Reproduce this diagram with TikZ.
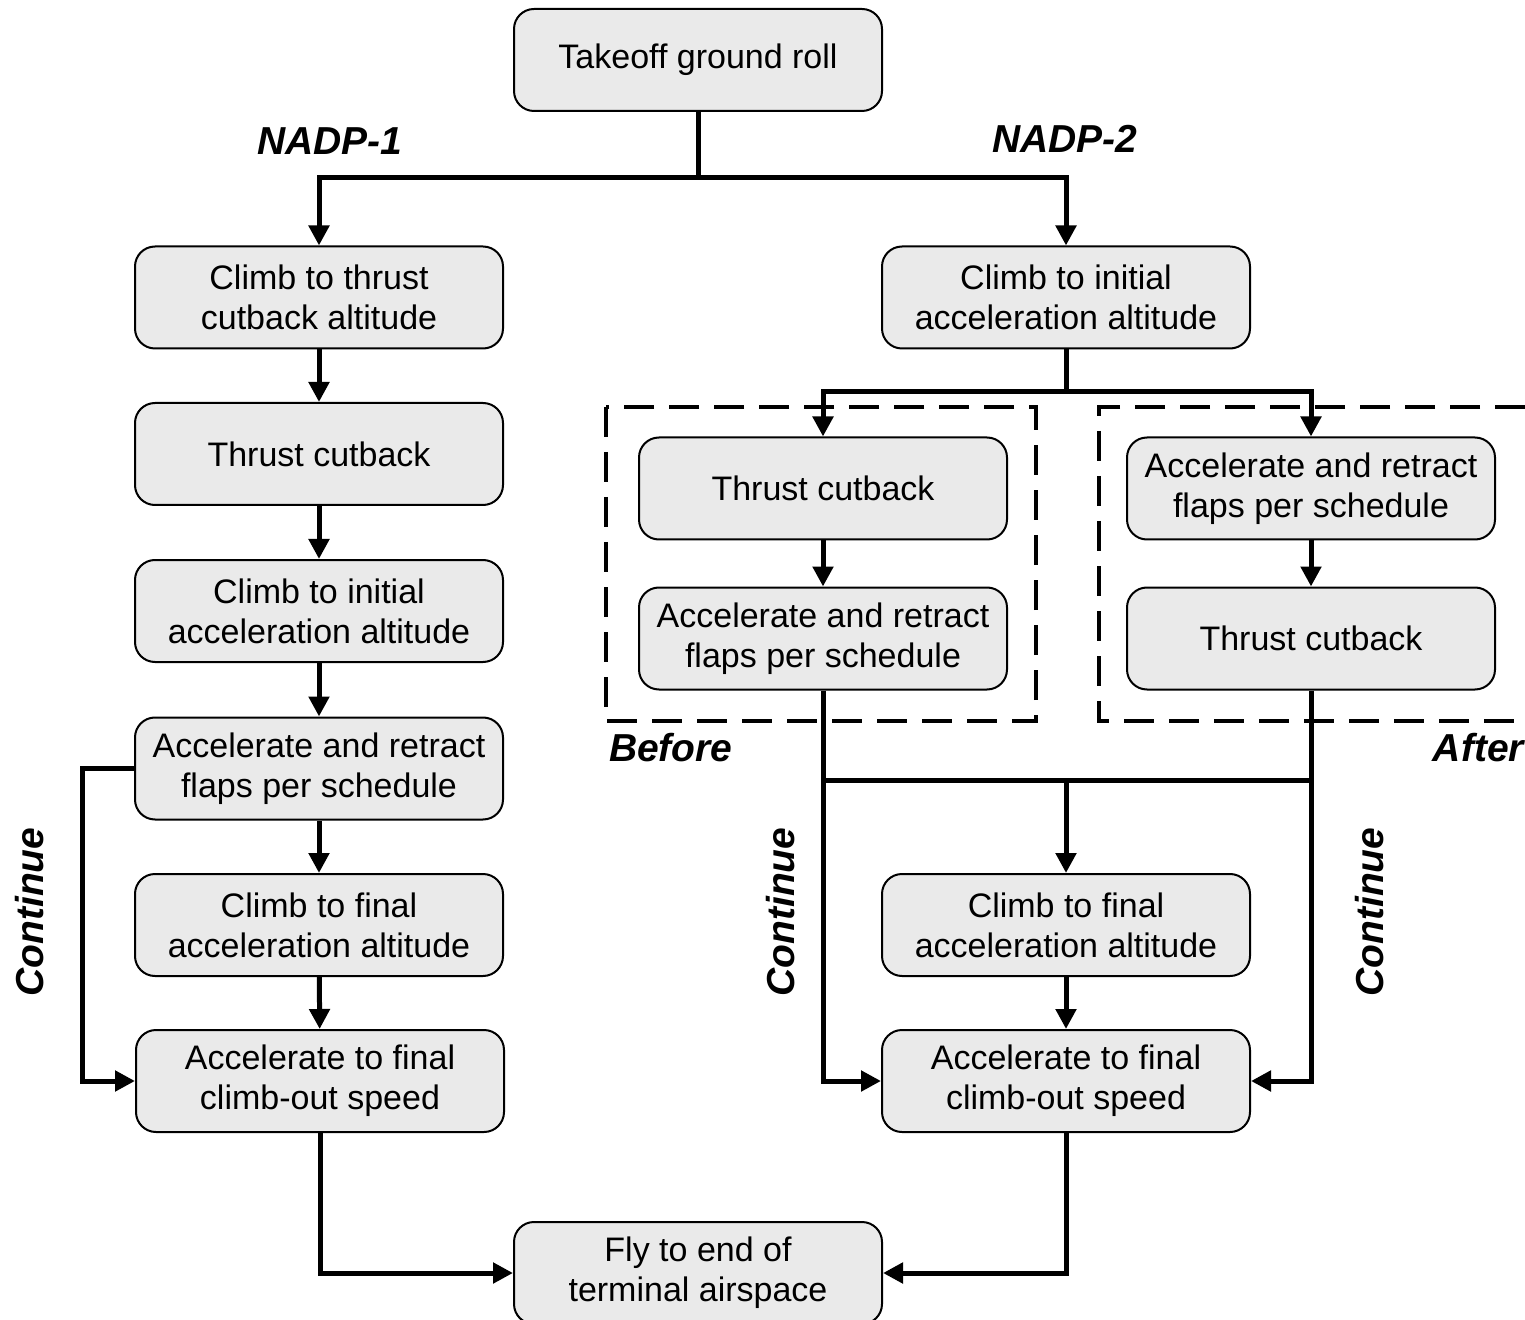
\documentclass[tikz,border=0pt]{standalone}
\usepackage{fontspec}
\setmainfont{Liberation Sans}
\usetikzlibrary{arrows.meta}
\definecolor{boxgray}{HTML}{EAEAEA}
\begin{document}
\begin{tikzpicture}[x=0.5pt,y=-0.5pt,
  stage/.style={draw, line width=1pt, rounded corners=10pt, fill=boxgray,
    minimum width=184pt, minimum height=51pt, align=center, inner sep=0pt,
    font=\fontsize{17}{20}\selectfont},
  flow/.style={line width=2.5pt, -{Triangle[length=10pt,width=10pt]}},
  link/.style={line width=2.5pt},
  tag/.style={font=\fontsize{19.5}{22}\selectfont\bfseries\itshape},
  group/.style={draw, line width=1.75pt, dash pattern=on 15pt off 7.5pt}]
\useasboundingbox (0,0) rectangle (1525,1320);

% procedure groups for NADP-2
\draw[group] (606,407) rectangle (1036,721);
\draw[group] (1525,407) -- (1099,407) -- (1099,721) -- (1525,721);

% stages
\node[stage] (top) at (698,60) {Takeoff ground roll};
\node[stage] (l1) at (319,297.5) {Climb to thrust\\cutback altitude};
\node[stage] (l2) at (319,454) {Thrust cutback};
\node[stage] (l3) at (319,611) {Climb to initial\\acceleration altitude};
\node[stage] (l4) at (319,768.5) {Accelerate and retract\\flaps per schedule};
\node[stage] (l5) at (319,925) {Climb to final\\acceleration altitude};
\node[stage] (l6) at (320,1081) {Accelerate to final\\climb-out speed};
\node[stage] (r1) at (1066,297.5) {Climb to initial\\acceleration altitude};
\node[stage] (b1) at (823,488.5) {Thrust cutback};
\node[stage] (b2) at (823,638.5) {Accelerate and retract\\flaps per schedule};
\node[stage] (a1) at (1311,488.5) {Accelerate and retract\\flaps per schedule};
\node[stage] (a2) at (1311,638.5) {Thrust cutback};
\node[stage] (r2) at (1066,925) {Climb to final\\acceleration altitude};
\node[stage] (r3) at (1066,1081) {Accelerate to final\\climb-out speed};
\node[stage] (end) at (698,1273) {Fly to end of\\terminal airspace};

% labels
\node[tag] (n1) at (330,141) {NADP-1};
\node[tag] (n2) at (1065,139) {NADP-2};
\node[tag, anchor=west] (bef) at (602,748) {Before};
\node[tag, anchor=east] (aft) at (1531,748) {After};
\node[tag, rotate=90] (c1) at (30,912) {Continue};
\node[tag, rotate=90] (c2) at (781,912) {Continue};
\node[tag, rotate=90] (c3) at (1370,912) {Continue};

% junction points
\coordinate (ts) at (698,178);
\coordinate (rs) at (1066,392);
\coordinate (mj) at (1066,780);

% top split
\draw[link] (top.south) -- (ts);
\draw[flow] (ts) -| (l1.north);
\draw[flow] (ts) -| (r1.north);

% NADP-1 chain
\draw[flow] (l1) -- (l2);
\draw[flow] (l2) -- (l3);
\draw[flow] (l3) -- (l4);
\draw[flow] (l4) -- (l5);
\draw[flow] (l5) -- (l6);
\draw[flow] (l4.west) -- ++(-52,0) |- (l6.west);
\draw[flow] (l6.south) |- (end.west);

% NADP-2 branches
\draw[link] (r1.south) -- (rs);
\draw[flow] (rs) -| (b1.north);
\draw[flow] (rs) -| (a1.north);
\draw[flow] (b1) -- (b2);
\draw[flow] (a1) -- (a2);
\draw[flow] (b2.south) |- (r3.west);
\draw[flow] (a2.south) |- (r3.east);
\draw[link] (b2.south |- mj) -- (a2.south |- mj);
\draw[flow] (mj) -- (r2.north);
\draw[flow] (r2) -- (r3);
\draw[flow] (r3.south) |- (end.east);
\end{tikzpicture}
\end{document}
